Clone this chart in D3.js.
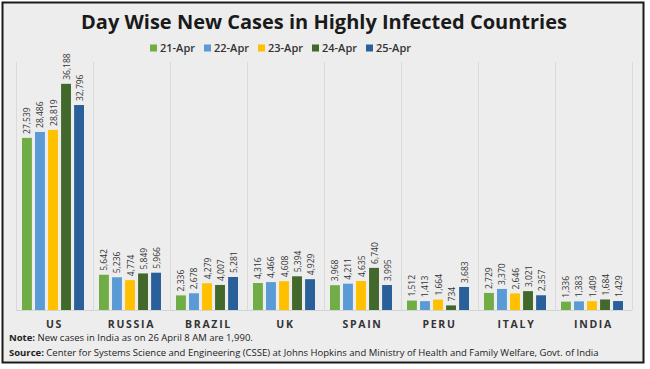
<!DOCTYPE html>
<html><head><meta charset="utf-8">
<script src="https://cdn.jsdelivr.net/npm/d3@7"></script>
<style>body{margin:0;background:#fff}svg{display:block}</style>
</head><body><svg id="c" width="650" height="369"></svg>
<script>
const categories = ["US","RUSSIA","BRAZIL","UK","SPAIN","PERU","ITALY","INDIA"];
const seriesNames = ["21-Apr","22-Apr","23-Apr","24-Apr","25-Apr"];
const apr21 = [27539,5642,2336,4316,3968,1512,2729,1336];
const apr22 = [28486,5236,2678,4466,4211,1413,3370,1383];
const apr23 = [28819,4774,4279,4608,4635,1664,2646,1409];
const apr24 = [36188,5849,4007,5394,6740,734,3021,1684];
const apr25 = [32796,5966,5281,4929,3995,3683,2357,1429];
const colors = ["#70ad47","#5b9bd5","#ffc000","#43682b","#2a6099"];
const title = "Day Wise New Cases in Highly Infected Countries";
const note = "New cases in India as on 26 April 8 AM are 1,990.";
const source = "Center for Systems Science and Engineering (CSSE) at Johns Hopkins and Ministry of Health and Family Welfare, Govt. of India";

const series = [apr21,apr22,apr23,apr24,apr25];
const svg = d3.select("#c");
const font = "'Open Sans', sans-serif";

svg.append("rect").attr("x",2.5).attr("y",2.5).attr("width",641).attr("height",360)
  .attr("fill","#ededed").attr("stroke","#1a1a1a").attr("stroke-width",2);

svg.append("text").attr("x",324).attr("y",29).attr("text-anchor","middle")
  .attr("font-family",font).attr("font-weight","bold").attr("font-size",20)
  .attr("fill","#1a1a1a").text(title);

// legend
const lg = svg.append("g");
seriesNames.forEach((s,i)=>{
  const x = 150 + i*54;
  lg.append("rect").attr("x",x).attr("y",44.5).attr("width",7).attr("height",7).attr("fill",colors[i]);
  lg.append("text").attr("x",x+10).attr("y",52).attr("font-family",font).attr("font-weight",600)
    .attr("font-size",11).attr("fill","#333").text(s);
});

const x0 = d3.scaleBand().domain(categories).range([16,632]).padding(0);
const x1 = d3.scaleBand().domain(d3.range(5)).range([6, x0.bandwidth()-9]).paddingInner(0.24).paddingOuter(0);
const y = d3.scaleLinear().domain([0,40000]).range([310,60]);

// separators
svg.append("g").selectAll("line").data(categories.concat(["_end"])).join("line")
  .attr("x1",(d,i)=>16+i*x0.bandwidth()+0.5).attr("x2",(d,i)=>16+i*x0.bandwidth()+0.5)
  .attr("y1",62).attr("y2",310).attr("stroke","#dadada").attr("stroke-width",1);

svg.append("line").attr("x1",16).attr("x2",632).attr("y1",310.5).attr("y2",310.5)
  .attr("stroke","#d4d4d4");

const g = svg.append("g");
categories.forEach((c,ci)=>{
  series.forEach((arr,si)=>{
    const bx = x0(c)+x1(si), w = x1.bandwidth(), v = arr[ci];
    g.append("rect").attr("x",bx).attr("y",y(v)).attr("width",w).attr("height",y(0)-y(v)).attr("fill",colors[si]);
    g.append("text").attr("transform",`translate(${bx+w/2+3.5},${y(v)-4}) rotate(-90)`)
      .attr("font-family",font).attr("font-size",8.5).attr("fill","#333")
      .text(d3.format(",")(v));
  });
});

// category axis labels
svg.append("g").selectAll("text").data(categories).join("text")
  .attr("x",d=>x0(d)+x0.bandwidth()/2).attr("y",328).attr("text-anchor","middle")
  .attr("font-family",font).attr("font-weight","bold").attr("font-size",10.5)
  .attr("letter-spacing",1.7).attr("fill","#333").text(d=>d);

const nt = svg.append("text").attr("x",9).attr("y",341).attr("font-family",font).attr("font-size",9.5).attr("fill","#222");
nt.append("tspan").attr("font-weight","bold").text("Note:");
nt.append("tspan").text(" "+note);
const st = svg.append("text").attr("x",9).attr("y",356).attr("font-family",font).attr("font-size",9.5).attr("fill","#222");
st.append("tspan").attr("font-weight","bold").text("Source:");
st.append("tspan").text(" "+source);
</script></body></html>
